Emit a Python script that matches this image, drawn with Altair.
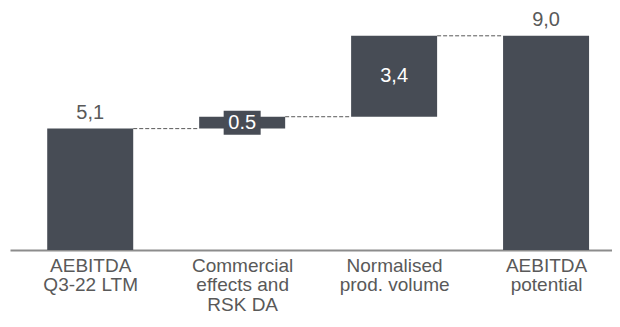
import json
import altair as alt
import pandas as pd

categories = ["AEBITDA|Q3-22 LTM", "Commercial|effects and|RSK DA", "Normalised|prod. volume", "AEBITDA|potential"]
deltas = [5.1, 0.5, 3.4, 9.0]
kinds = ["total", "delta", "delta", "total"]
labels = ["5,1", "0.5", "3,4", "9,0"]
label_styles = ["above", "boxed", "inside", "above"]

BAR = "#474c55"
TXT = "#595959"
FONT = "Liberation Sans"

starts, ends = [], []
run = 0.0
for d, k in zip(deltas, kinds):
    if k == "total":
        starts.append(0.0)
        ends.append(d)
        run = d
    else:
        starts.append(run)
        run = round(run + d, 6)
        ends.append(run)

idx = list(range(len(categories)))
df = pd.DataFrame({
    "i": idx,
    "y0": starts,
    "y1": ends,
    "ym": [(a + b) / 2 for a, b in zip(starts, ends)],
    "txt": labels,
    "pos": label_styles,
})

conn = pd.DataFrame({
    "i": idx[:-1],
    "ni": idx[1:],
    "lvl": ends[:-1],
})

xscale = alt.Scale(domain=[-0.495, 3.401], nice=False, zero=False)
yscale = alt.Scale(domain=[0, 10], nice=False, zero=True)

label_expr = "split(" + json.dumps(categories) + "[datum.value], '|')"

xenc = alt.X(
    "i:Q", scale=xscale, title=None,
    axis=alt.Axis(
        values=idx, labelExpr=label_expr, labelAngle=0, ticks=False, grid=False,
        domainColor="#8c8c8c", domainWidth=2, labelFont=FONT, labelFontSize=19,
        labelColor=TXT, labelPadding=6, labelLineHeight=19.5, labelAlign="center",
        labelFlush=False, labelOverlap=False, labelBound=False,
    ),
)
xplain = alt.X("i:Q", scale=xscale)

base = alt.Chart(df)

rules = alt.Chart(conn).mark_rule(
    color=TXT, strokeDash=[4, 2], strokeWidth=1, xOffset=43, x2Offset=-43
).encode(
    x=xplain,
    x2="ni:Q",
    y=alt.Y("lvl:Q", scale=yscale),
)

bars = base.mark_bar(color=BAR, size=86).encode(
    x=xenc,
    y=alt.Y("y0:Q", scale=yscale, axis=None),
    y2="y1:Q",
)

box = base.transform_filter(alt.datum.pos == "boxed").mark_point(
    shape="M-1,-0.65H1V0.65H-1Z", size=1369, filled=True, color=BAR, opacity=1
).encode(
    x=xplain,
    y=alt.Y("ym:Q", scale=yscale),
)

above = base.transform_filter(alt.datum.pos == "above").mark_text(
    baseline="alphabetic", dy=-10, font=FONT, fontSize=20, color=TXT
).encode(
    x=xplain,
    y=alt.Y("y1:Q", scale=yscale),
    text="txt:N",
)

inside = base.transform_filter(alt.datum.pos != "above").mark_text(
    baseline="middle", font=FONT, fontSize=20, color="white"
).encode(
    x=xplain,
    y=alt.Y("ym:Q", scale=yscale),
    text="txt:N",
)

chart = alt.layer(bars, rules, box, above, inside).properties(
    width=602, height=238,
    autosize=alt.AutoSizeParams(type="none"),
    padding={"left": 2, "top": 4, "right": 0, "bottom": 64},
).configure_view(stroke=None)

chart.save("out.html", embed_options={"renderer": "svg", "actions": False})
